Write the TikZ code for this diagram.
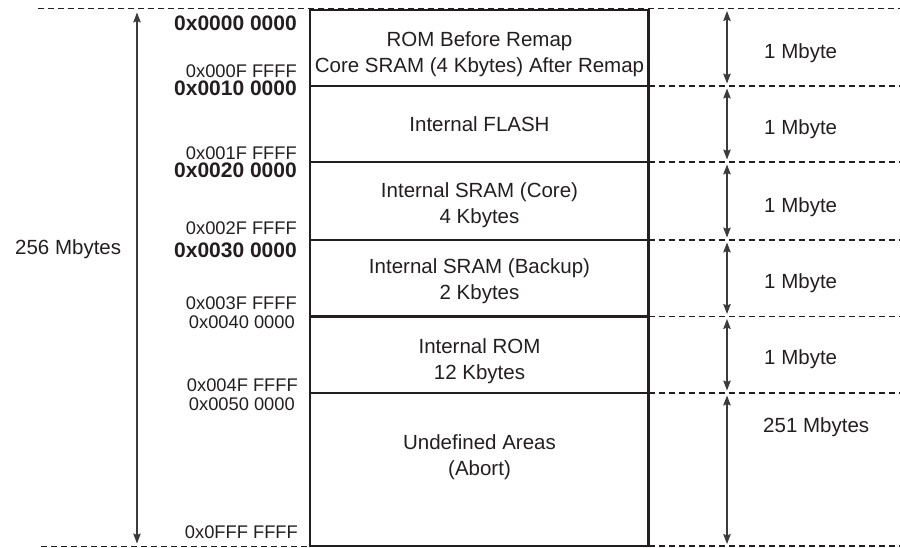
\documentclass[tikz,border=0pt]{standalone}
\usepackage{fontspec}
\setmainfont{Liberation Sans}
\usetikzlibrary{arrows.meta}
\definecolor{ink}{RGB}{35,31,32}
\definecolor{shaft}{RGB}{60,58,58}
\newcommand\mainfs{\fontsize{20.5pt}{26pt}\selectfont}
\newcommand\addrfs{\fontsize{18.3pt}{20pt}\selectfont}
\newcommand\addrbf{\bfseries\fontsize{21pt}{22pt}\selectfont}
\begin{document}
\begin{tikzpicture}[x=1pt,y=-1pt,
  region/.style={draw=ink, line width=2.1pt, rectangle, minimum width=338.5pt,
    inner sep=0pt, outer sep=0pt, anchor=north west},
  regiontext/.style={font=\mainfs, align=center, inner sep=0pt, text=ink},
  addr/.style={anchor=east, font=\addrfs, inner sep=0pt, text height=13.1pt, text depth=0pt, text=ink},
  addrb/.style={anchor=east, font=\addrbf, inner sep=0pt, text height=15pt, text depth=0pt, text=ink},
  sizelabel/.style={anchor=west, font=\mainfs, inner sep=0pt, text height=14.7pt, text depth=0pt, text=ink},
  dashline/.style={draw=ink, line width=1.7pt, dash pattern=on 6pt off 4pt},
  dim/.style={draw=shaft, line width=1.2pt, {Stealth[length=10pt,width=7.5pt,inset=1.5pt]}-{Stealth[length=10pt,width=7.5pt,inset=1.5pt]}, shorten <=2.5pt, shorten >=2.5pt}
]
\useasboundingbox (0,0) rectangle (900,548);

% memory regions
\node[region, minimum height=76pt]   (r1) at (310,10) {};
\node[region, minimum height=76pt]   (r2) at (310,86) {};
\node[region, minimum height=78pt]   (r3) at (310,162) {};
\node[region, minimum height=76.5pt] (r4) at (310,240) {};
\node[region, minimum height=76.5pt] (r5) at (310,316.5) {};
\node[region, minimum height=153pt]  (r6) at (310,393) {};

% region texts
\node[regiontext] (t1) at (479.5,54.3) {ROM Before Remap\\Core SRAM (4 Kbytes) After Remap};
\node[regiontext] (t2) at (479.5,124) {Internal FLASH};
\node[regiontext] (t3) at (479.5,205) {Internal SRAM (Core)\\4 Kbytes};
\node[regiontext] (t4) at (479.5,281.5) {Internal SRAM (Backup)\\2 Kbytes};
\node[regiontext] (t5) at (479.5,361) {Internal ROM\\12 Kbytes};
\node[regiontext] (t6) at (479.5,457.5) {Undefined Areas\\(Abort)};

% dashed boundary lines
\coordinate (L0) at (38,8.5);
\coordinate (R0) at (900,8.5);
\coordinate (L6) at (41,546.5);
\draw[dashline] (L0) -- (R0);
\draw[dashline] (r1.south east) -- (r1.south east -| R0);
\draw[dashline] (r2.south east) -- (r2.south east -| R0);
\draw[dashline] (r3.south east) -- (r3.south east -| R0);
\draw[dashline] (r4.south east) -- (r4.south east -| R0);
\draw[dashline] (r5.south east) -- (r5.south east -| R0);
\draw[dashline] (L6) -- (L6 -| r6.west);
\draw[dashline] (r6.south east) -- (r6.south east -| R0);

% dimension arrows
\coordinate (A) at (727,0);
\coordinate (B) at (137,0);
\draw[dim] (L0 -| A) -- (r1.south -| A);
\draw[dim] (r2.north -| A) -- (r2.south -| A);
\draw[dim] (r3.north -| A) -- (r3.south -| A);
\draw[dim] (r4.north -| A) -- (r4.south -| A);
\draw[dim] (r5.north -| A) -- (r5.south -| A);
\draw[dim] (r6.north -| A) -- (L6 -| A);
\draw[dim, shorten <=4pt, shorten >=3pt] (L0 -| B) -- (L6 -| B);

% size labels
\node[sizelabel] (s1) at (764,50.7) {1 Mbyte};
\node[sizelabel] (s2) at (764,127.3) {1 Mbyte};
\node[sizelabel] (s3) at (764,205.3) {1 Mbyte};
\node[sizelabel] (s4) at (764,281.3) {1 Mbyte};
\node[sizelabel] (s5) at (764,357) {1 Mbyte};
\node[sizelabel] (s6) at (763,424.7) {251 Mbytes};
\node[sizelabel] (total) at (15,247) {256 Mbytes};

% addresses
\node[addrb] (a0)  at (297,23)  {0x0000 0000};
\node[addr]  (a1)  at (297,70.5)  {0x000F FFFF};
\node[addrb] (a2)  at (297,88.5)  {0x0010 0000};
\node[addr]  (a3)  at (297,152.5) {0x001F FFFF};
\node[addrb] (a4)  at (297,170.5) {0x0020 0000};
\node[addr]  (a5)  at (297,228) {0x002F FFFF};
\node[addrb] (a6)  at (297,250) {0x0030 0000};
\node[addr]  (a7)  at (297,303) {0x003F FFFF};
\node[addr]  (a8)  at (295,322) {0x0040 0000};
\node[addr]  (a9)  at (298,385) {0x004F FFFF};
\node[addr]  (a10) at (295,404) {0x0050 0000};
\node[addr]  (a11) at (298,532) {0x0FFF FFFF};
\end{tikzpicture}
\end{document}
